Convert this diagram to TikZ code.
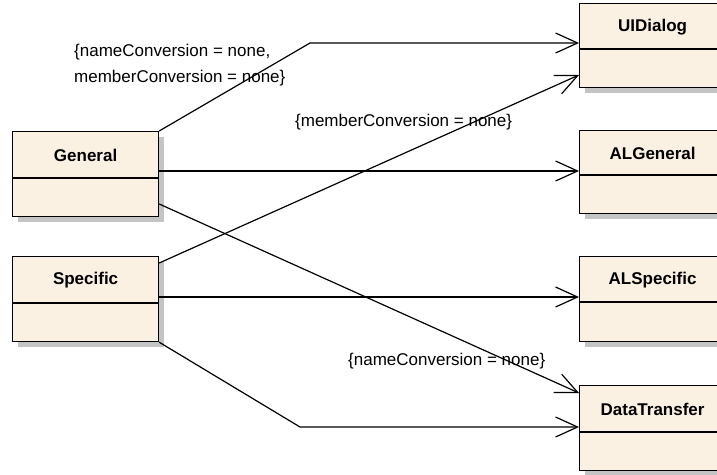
\documentclass[tikz,border=0pt]{standalone}
\usepackage{fontspec}
\setmainfont{Liberation Sans}
\usetikzlibrary{arrows.meta,shadows,calc}
\definecolor{boxfill}{HTML}{FBF1E3}
\definecolor{shadowgray}{HTML}{C4C4C4}
\begin{document}
\begin{tikzpicture}[x=1pt,y=-1pt,
  cls/.style={draw=black, line width=1.2pt, fill=boxfill, minimum width=146pt, inner sep=0pt, anchor=north west,
    drop shadow={shadow xshift=5pt,shadow yshift=-5pt,fill=shadowgray,opacity=1}},
  ttl/.style={font=\fontsize{17}{20}\selectfont\bfseries, inner sep=0pt},
  note/.style={font=\fontsize{17}{26}\selectfont, align=left, inner sep=0pt, anchor=west},
  divider/.style={line width=1.2pt},
  conn/.style={line width=1.2pt, -{Straight Barb[length=22pt,width=20pt,line width=1.2pt]}},
]
\useasboundingbox (0,0) rectangle (717,474);
\clip (0,0) rectangle (717,474);

% classes
\node[cls, minimum height=85pt] (G) at (12,131) {};
\node[cls, minimum height=85pt] (S) at (12,256) {};
\node[cls, minimum height=84pt] (UI) at (579,3) {};
\node[cls, minimum height=83pt] (ALG) at (579,130) {};
\node[cls, minimum height=85pt] (ALS) at (579,256) {};
\node[cls, minimum height=85pt] (DT) at (579,385) {};

\draw[divider] ($(G.north west)+(0,47)$) -- ($(G.north east)+(0,47)$);
\draw[divider] ($(S.north west)+(0,47)$) -- ($(S.north east)+(0,47)$);
\draw[divider] ($(UI.north west)+(0,46)$) -- ($(UI.north east)+(0,46)$);
\draw[divider] ($(ALG.north west)+(0,45)$) -- ($(ALG.north east)+(0,45)$);
\draw[divider] ($(ALS.north west)+(0,46)$) -- ($(ALS.north east)+(0,46)$);
\draw[divider] ($(DT.north west)+(0,47)$) -- ($(DT.north east)+(0,47)$);

\node[ttl] (Gt) at ($(G.north)+(0,24)$) {General};
\node[ttl] (St) at ($(S.north)+(0,24)$) {Specific};
\node[ttl] (UIt) at ($(UI.north)+(0,24)$) {UIDialog};
\node[ttl] (ALGt) at ($(ALG.north)+(0,23)$) {ALGeneral};
\node[ttl] (ALSt) at ($(ALS.north)+(0,24)$) {ALSpecific};
\node[ttl] (DTt) at ($(DT.north)+(0,24)$) {DataTransfer};

% labels
\node[note] (l1) at (74,65) {\{nameConversion = none,\\memberConversion = none\}};
\node[note] (l2) at (295,122) {\{memberConversion = none\}};
\node[note] (l3) at (348,361) {\{nameConversion = none\}};

% connectors
\coordinate (b1) at (310,43);
\coordinate (b2) at (300,427);
\draw[conn] (G.north east) -- (b1) -- (b1 -| UI.west);
\draw[conn] ($(G.north east)+(0,40)$) -- ($(ALG.north west)+(0,41)$);
\draw[conn] ($(G.north east)+(0,73)$) -- ($(DT.north west)+(0,8)$);
\draw[conn] ($(S.north east)+(0,7)$) -- ($(UI.north west)+(0,72)$);
\draw[conn] ($(S.north east)+(0,41)$) -- ($(ALS.north west)+(0,41)$);
\draw[conn] (S.south east) -- (b2) -- (b2 -| DT.west);
\end{tikzpicture}
\end{document}
